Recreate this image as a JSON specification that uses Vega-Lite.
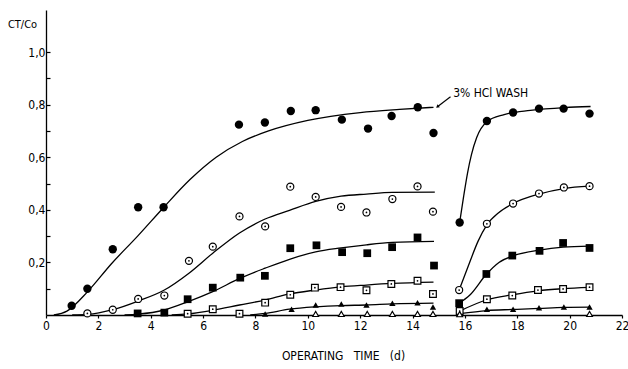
{
  "$schema": "https://vega.github.io/schema/vega-lite/v6.json",
  "width": 576,
  "height": 305,
  "autosize": {"type": "none"},
  "padding": {"left": 46, "top": 10, "right": 6, "bottom": 54},
  "background": "white",
  "config": {
    "view": {"stroke": null},
    "font": "DejaVu Sans Condensed",
    "axis": {
      "grid": false,
      "domainColor": "black",
      "domainWidth": 1.3,
      "tickColor": "black",
      "tickWidth": 1.2,
      "labelColor": "black",
      "titleColor": "black",
      "labelFont": "DejaVu Sans Condensed",
      "titleFont": "DejaVu Sans Condensed",
      "labelFontSize": 12,
      "titleFontWeight": "normal"
    }
  },
  "datasets": {
    "pts": [
      {"s": "fc", "t": 0.98, "v": 0.035}, {"s": "fc", "t": 1.58, "v": 0.1}, {"s": "fc", "t": 2.55, "v": 0.25}, {"s": "fc", "t": 3.52, "v": 0.41}, {"s": "fc", "t": 4.49, "v": 0.41},
      {"s": "fc", "t": 7.37, "v": 0.724}, {"s": "fc", "t": 8.36, "v": 0.732}, {"s": "fc", "t": 9.35, "v": 0.776}, {"s": "fc", "t": 10.3, "v": 0.779}, {"s": "fc", "t": 11.3, "v": 0.743},
      {"s": "fc", "t": 12.3, "v": 0.709}, {"s": "fc", "t": 13.2, "v": 0.757}, {"s": "fc", "t": 14.2, "v": 0.79}, {"s": "fc", "t": 14.8, "v": 0.692}, {"s": "fc", "t": 15.8, "v": 0.352},
      {"s": "fc", "t": 16.84, "v": 0.738}, {"s": "fc", "t": 17.84, "v": 0.77}, {"s": "fc", "t": 18.83, "v": 0.785}, {"s": "fc", "t": 19.77, "v": 0.785}, {"s": "fc", "t": 20.76, "v": 0.766},
      {"s": "dc", "t": 1.58, "v": 0.006}, {"s": "dc", "t": 2.55, "v": 0.02}, {"s": "dc", "t": 3.52, "v": 0.061}, {"s": "dc", "t": 4.52, "v": 0.074}, {"s": "dc", "t": 5.46, "v": 0.206},
      {"s": "dc", "t": 6.37, "v": 0.26}, {"s": "dc", "t": 7.39, "v": 0.375}, {"s": "dc", "t": 8.37, "v": 0.337}, {"s": "dc", "t": 9.33, "v": 0.488}, {"s": "dc", "t": 10.3, "v": 0.449},
      {"s": "dc", "t": 11.27, "v": 0.411}, {"s": "dc", "t": 12.24, "v": 0.39}, {"s": "dc", "t": 13.23, "v": 0.441}, {"s": "dc", "t": 14.19, "v": 0.489}, {"s": "dc", "t": 14.78, "v": 0.393},
      {"s": "dc", "t": 15.78, "v": 0.095}, {"s": "dc", "t": 16.84, "v": 0.347}, {"s": "dc", "t": 17.84, "v": 0.424}, {"s": "dc", "t": 18.83, "v": 0.462}, {"s": "dc", "t": 19.78, "v": 0.485}, {"s": "dc", "t": 20.76, "v": 0.49},
      {"s": "fs", "t": 3.5, "v": 0.006}, {"s": "fs", "t": 4.52, "v": 0.009}, {"s": "fs", "t": 5.41, "v": 0.06}, {"s": "fs", "t": 6.37, "v": 0.104}, {"s": "fs", "t": 7.42, "v": 0.142},
      {"s": "fs", "t": 8.36, "v": 0.149}, {"s": "fs", "t": 9.33, "v": 0.254}, {"s": "fs", "t": 10.33, "v": 0.265}, {"s": "fs", "t": 11.31, "v": 0.239}, {"s": "fs", "t": 12.27, "v": 0.235},
      {"s": "fs", "t": 13.22, "v": 0.258}, {"s": "fs", "t": 14.19, "v": 0.295}, {"s": "fs", "t": 14.82, "v": 0.188}, {"s": "fs", "t": 15.78, "v": 0.045}, {"s": "fs", "t": 16.82, "v": 0.156},
      {"s": "fs", "t": 17.81, "v": 0.226}, {"s": "fs", "t": 18.85, "v": 0.244}, {"s": "fs", "t": 19.75, "v": 0.274}, {"s": "fs", "t": 20.76, "v": 0.255},
      {"s": "os", "t": 5.41, "v": 0.005}, {"s": "os", "t": 6.37, "v": 0.022}, {"s": "os", "t": 7.39, "v": 0.005}, {"s": "os", "t": 8.37, "v": 0.047}, {"s": "os", "t": 9.33, "v": 0.077},
      {"s": "os", "t": 10.27, "v": 0.104}, {"s": "os", "t": 11.25, "v": 0.106}, {"s": "os", "t": 12.24, "v": 0.094}, {"s": "os", "t": 13.19, "v": 0.118}, {"s": "os", "t": 14.19, "v": 0.13},
      {"s": "os", "t": 14.78, "v": 0.08}, {"s": "os", "t": 15.8, "v": 0.015}, {"s": "os", "t": 16.84, "v": 0.06}, {"s": "os", "t": 17.81, "v": 0.074}, {"s": "os", "t": 18.79, "v": 0.095},
      {"s": "os", "t": 19.75, "v": 0.099}, {"s": "os", "t": 20.76, "v": 0.106},
      {"s": "ft", "t": 8.37, "v": 0.004}, {"s": "ft", "t": 9.38, "v": 0.022}, {"s": "ft", "t": 10.3, "v": 0.038}, {"s": "ft", "t": 11.28, "v": 0.042}, {"s": "ft", "t": 12.24, "v": 0.038},
      {"s": "ft", "t": 13.23, "v": 0.045}, {"s": "ft", "t": 14.19, "v": 0.047}, {"s": "ft", "t": 14.78, "v": 0.03}, {"s": "ft", "t": 15.8, "v": 0.004}, {"s": "ft", "t": 16.84, "v": 0.022},
      {"s": "ft", "t": 17.84, "v": 0.022}, {"s": "ft", "t": 18.83, "v": 0.028}, {"s": "ft", "t": 19.78, "v": 0.03}, {"s": "ft", "t": 20.76, "v": 0.03},
      {"s": "ot", "t": 10.3, "v": 0.004}, {"s": "ot", "t": 11.28, "v": 0.004}, {"s": "ot", "t": 12.27, "v": 0.004}, {"s": "ot", "t": 13.23, "v": 0.004}, {"s": "ot", "t": 14.19, "v": 0.004},
      {"s": "ot", "t": 14.78, "v": 0.004}, {"s": "ot", "t": 15.8, "v": 0.003}, {"s": "ot", "t": 20.76, "v": 0.004}
    ],
    "curves": [
      {"g": "fc1", "t": 0.3, "v": 0}, {"g": "fc1", "t": 0.8, "v": 0.015}, {"g": "fc1", "t": 1.6, "v": 0.09}, {"g": "fc1", "t": 2.5, "v": 0.195}, {"g": "fc1", "t": 3.5, "v": 0.3},
      {"g": "fc1", "t": 4.5, "v": 0.41}, {"g": "fc1", "t": 5.5, "v": 0.515}, {"g": "fc1", "t": 6.5, "v": 0.6}, {"g": "fc1", "t": 7.5, "v": 0.66}, {"g": "fc1", "t": 8.5, "v": 0.7},
      {"g": "fc1", "t": 10, "v": 0.74}, {"g": "fc1", "t": 12, "v": 0.77}, {"g": "fc1", "t": 13.5, "v": 0.782}, {"g": "fc1", "t": 14.8, "v": 0.79},
      {"g": "dc1", "t": 1.0, "v": 0}, {"g": "dc1", "t": 1.6, "v": 0.002}, {"g": "dc1", "t": 2.55, "v": 0.02}, {"g": "dc1", "t": 3.52, "v": 0.053}, {"g": "dc1", "t": 4.52, "v": 0.095},
      {"g": "dc1", "t": 5.46, "v": 0.159}, {"g": "dc1", "t": 6.37, "v": 0.235}, {"g": "dc1", "t": 7.39, "v": 0.312}, {"g": "dc1", "t": 8.37, "v": 0.365}, {"g": "dc1", "t": 9.3, "v": 0.398},
      {"g": "dc1", "t": 10.3, "v": 0.432}, {"g": "dc1", "t": 11.27, "v": 0.452}, {"g": "dc1", "t": 12.24, "v": 0.46}, {"g": "dc1", "t": 13.23, "v": 0.466}, {"g": "dc1", "t": 14.85, "v": 0.467},
      {"g": "fs1", "t": 3.0, "v": 0}, {"g": "fs1", "t": 3.5, "v": 0.003}, {"g": "fs1", "t": 4.52, "v": 0.019}, {"g": "fs1", "t": 5.41, "v": 0.05}, {"g": "fs1", "t": 6.37, "v": 0.089},
      {"g": "fs1", "t": 7.42, "v": 0.14}, {"g": "fs1", "t": 8.37, "v": 0.178}, {"g": "fs1", "t": 9.3, "v": 0.212}, {"g": "fs1", "t": 10.3, "v": 0.24}, {"g": "fs1", "t": 11.27, "v": 0.255},
      {"g": "fs1", "t": 12.24, "v": 0.267}, {"g": "fs1", "t": 13.23, "v": 0.276}, {"g": "fs1", "t": 14.82, "v": 0.28},
      {"g": "os1", "t": 4.8, "v": 0}, {"g": "os1", "t": 5.41, "v": 0.004}, {"g": "os1", "t": 6.37, "v": 0.018}, {"g": "os1", "t": 7.39, "v": 0.038}, {"g": "os1", "t": 8.37, "v": 0.057},
      {"g": "os1", "t": 9.3, "v": 0.08}, {"g": "os1", "t": 10.3, "v": 0.095}, {"g": "os1", "t": 11.27, "v": 0.107}, {"g": "os1", "t": 12.24, "v": 0.114}, {"g": "os1", "t": 13.23, "v": 0.12}, {"g": "os1", "t": 14.8, "v": 0.125},
      {"g": "ft1", "t": 7.8, "v": 0}, {"g": "ft1", "t": 8.37, "v": 0.006}, {"g": "ft1", "t": 9.3, "v": 0.022}, {"g": "ft1", "t": 10.3, "v": 0.031}, {"g": "ft1", "t": 11.27, "v": 0.036},
      {"g": "ft1", "t": 12.24, "v": 0.038}, {"g": "ft1", "t": 13.23, "v": 0.042}, {"g": "ft1", "t": 14.8, "v": 0.045},
      {"g": "fc2", "t": 15.8, "v": 0.352}, {"g": "fc2", "t": 15.95, "v": 0.45}, {"g": "fc2", "t": 16.1, "v": 0.54}, {"g": "fc2", "t": 16.25, "v": 0.61}, {"g": "fc2", "t": 16.45, "v": 0.675},
      {"g": "fc2", "t": 16.84, "v": 0.735}, {"g": "fc2", "t": 17.5, "v": 0.762}, {"g": "fc2", "t": 18.5, "v": 0.778}, {"g": "fc2", "t": 19.8, "v": 0.789}, {"g": "fc2", "t": 20.8, "v": 0.793},
      {"g": "dc2", "t": 15.78, "v": 0.095}, {"g": "dc2", "t": 16.18, "v": 0.2}, {"g": "dc2", "t": 16.5, "v": 0.28}, {"g": "dc2", "t": 16.84, "v": 0.343}, {"g": "dc2", "t": 17.3, "v": 0.39},
      {"g": "dc2", "t": 17.84, "v": 0.424}, {"g": "dc2", "t": 18.83, "v": 0.46}, {"g": "dc2", "t": 19.78, "v": 0.481}, {"g": "dc2", "t": 20.76, "v": 0.49},
      {"g": "fs2", "t": 15.78, "v": 0.045}, {"g": "fs2", "t": 16.18, "v": 0.075}, {"g": "fs2", "t": 16.82, "v": 0.155}, {"g": "fs2", "t": 17.3, "v": 0.2}, {"g": "fs2", "t": 17.81, "v": 0.224},
      {"g": "fs2", "t": 18.85, "v": 0.247}, {"g": "fs2", "t": 19.75, "v": 0.258}, {"g": "fs2", "t": 20.76, "v": 0.262},
      {"g": "os2", "t": 15.8, "v": 0.015}, {"g": "os2", "t": 16.84, "v": 0.058}, {"g": "os2", "t": 17.81, "v": 0.077}, {"g": "os2", "t": 18.79, "v": 0.092}, {"g": "os2", "t": 19.75, "v": 0.1}, {"g": "os2", "t": 20.76, "v": 0.105},
      {"g": "ft2", "t": 15.8, "v": 0.005}, {"g": "ft2", "t": 16.84, "v": 0.017}, {"g": "ft2", "t": 17.84, "v": 0.021}, {"g": "ft2", "t": 18.83, "v": 0.025}, {"g": "ft2", "t": 19.78, "v": 0.029}, {"g": "ft2", "t": 20.76, "v": 0.03}
    ],
    "note": [{"t": 15.55, "v": 0.845, "label": "3% HCl WASH"}],
    "arrow": [{"t": 14.95, "v": 0.792, "t2": 15.45, "v2": 0.83}]
  },
  "encoding": {
    "x": {
      "field": "t", "type": "quantitative",
      "scale": {"domain": [0, 22], "nice": false, "zero": false},
      "axis": {
        "values": [0, 2, 4, 6, 8, 10, 12, 14, 16, 18, 20, 22],
        "tickSize": 3, "labelPadding": 2, "labelFlush": false,
        "title": "OPERATING\u00a0\u00a0\u00a0TIME\u00a0\u00a0\u00a0(d)",
        "titleFontSize": 12, "titleX": 297, "titleY": 40, "titleAlign": "center", "titleBaseline": "middle"
      }
    },
    "y": {
      "field": "v", "type": "quantitative",
      "scale": {"domain": [0, 1.16], "nice": false},
      "axis": {
        "values": [0.1, 0.2, 0.3, 0.4, 0.5, 0.6, 0.7, 0.8, 0.9, 1.0],
        "tickSize": -4, "labelPadding": 5,
        "labelExpr": "indexof([0.2,0.4,0.6,0.8,1],datum.value)>=0 ? replace(format(datum.value,'.1f'),'.',',') : ''",
        "title": "CT/Co", "titleAngle": 0, "titleFontSize": 11,
        "titleX": -24, "titleY": 14, "titleAlign": "center", "titleBaseline": "middle"
      }
    }
  },
  "layer": [
    {
      "data": {"name": "curves"},
      "mark": {"type": "line", "interpolate": "monotone", "color": "black", "strokeWidth": 1.3},
      "encoding": {"detail": {"field": "g"}}
    },
    {
      "data": {"name": "arrow"},
      "mark": {"type": "rule", "color": "black", "strokeWidth": 1.2},
      "encoding": {"x2": {"field": "t2"}, "y2": {"field": "v2"}}
    },
    {
      "data": {"name": "arrow"},
      "mark": {"type": "point", "shape": "triangle-up", "filled": true, "color": "black", "size": 14, "angle": 232, "opacity": 1},
      "encoding": {}
    },
    {
      "data": {"name": "note"},
      "mark": {"type": "text", "align": "left", "baseline": "middle", "fontSize": 12, "color": "black", "font": "DejaVu Sans Condensed"},
      "encoding": {"text": {"field": "label"}}
    },
    {
      "data": {"name": "pts"},
      "transform": [{"filter": "datum.s=='fc'"}],
      "mark": {"type": "point", "shape": "circle", "filled": true, "color": "black", "size": 70, "opacity": 1}
    },
    {
      "data": {"name": "pts"},
      "transform": [{"filter": "datum.s=='dc'"}],
      "mark": {"type": "point", "shape": "circle", "filled": true, "fill": "white", "stroke": "black", "strokeWidth": 1.2, "size": 50, "opacity": 1}
    },
    {
      "data": {"name": "pts"},
      "transform": [{"filter": "datum.s=='fs'"}],
      "mark": {"type": "point", "shape": "square", "filled": true, "color": "black", "size": 60, "opacity": 1}
    },
    {
      "data": {"name": "pts"},
      "transform": [{"filter": "datum.s=='os'"}],
      "mark": {"type": "point", "shape": "square", "filled": true, "fill": "white", "stroke": "black", "strokeWidth": 1.2, "size": 45, "opacity": 1}
    },
    {
      "data": {"name": "pts"},
      "transform": [{"filter": "datum.s=='dc' || datum.s=='os'"}],
      "mark": {"type": "point", "shape": "circle", "filled": true, "color": "black", "size": 3, "opacity": 1}
    },
    {
      "data": {"name": "pts"},
      "transform": [{"filter": "datum.s=='ft'"}],
      "mark": {"type": "point", "shape": "triangle-up", "filled": true, "color": "black", "size": 40, "opacity": 1}
    },
    {
      "data": {"name": "pts"},
      "transform": [{"filter": "datum.s=='ot'"}],
      "mark": {"type": "point", "shape": "triangle-up", "filled": true, "fill": "white", "stroke": "black", "strokeWidth": 1.1, "size": 35, "opacity": 1}
    }
  ]
}
